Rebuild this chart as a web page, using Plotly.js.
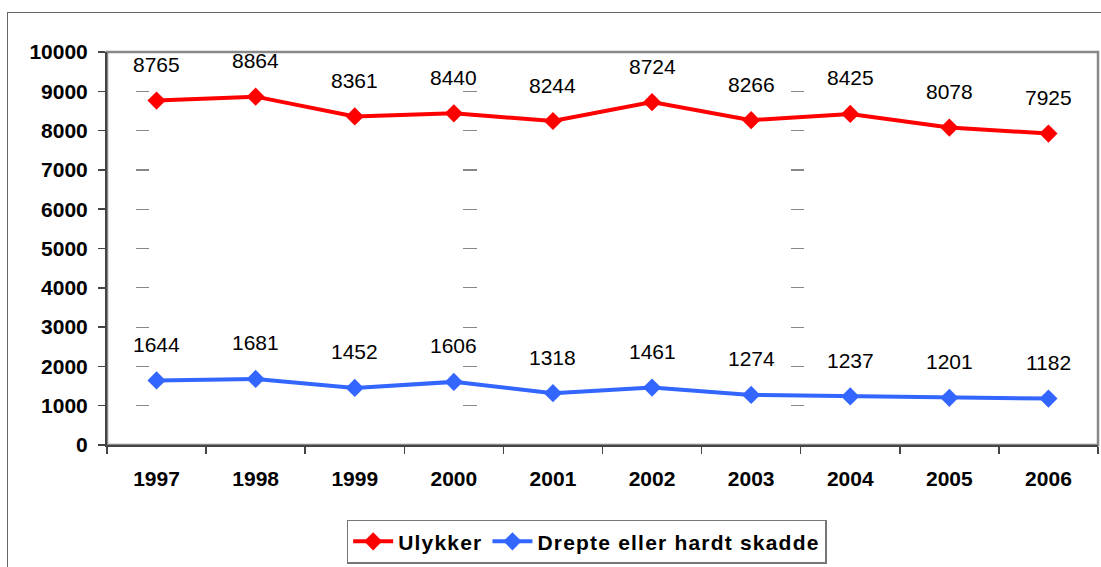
<!DOCTYPE html>
<html>
<head>
<meta charset="utf-8">
<script src="https://cdn.plot.ly/plotly-3.0.1.min.js"></script>
<style>
  html, body { margin: 0; padding: 0; background: #fff; }
  #wrap { position: relative; width: 1101px; height: 567px; overflow: hidden; }
  #chart { width: 1101px; height: 567px; }
  #frame { position: absolute; left: 7px; top: 12px; width: 1200px; height: 700px;
           border: 1.5px solid #666; pointer-events: none; }
  .legendtext { letter-spacing: 1.2px; }
</style>
</head>
<body>
<div id="wrap">
  <div id="chart"></div>
  <div id="frame"></div>
</div>
<script>
const years = ['1997','1998','1999','2000','2001','2002','2003','2004','2005','2006'];
const ulykker = [8765, 8864, 8361, 8440, 8244, 8724, 8266, 8425, 8078, 7925];
const drepte = [1644, 1681, 1452, 1606, 1318, 1461, 1274, 1237, 1201, 1182];
const seriesNames = ['Ulykker', 'Drepte eller hardt skadde'];
const seriesColors = ['#FF0000', '#3366FF'];

const FONT = 'Liberation Sans, Arial, sans-serif';

const traces = [ulykker, drepte].map((vals, i) => ({
  type: 'scatter', mode: 'lines+markers',
  x: years, y: vals, name: seriesNames[i],
  line: {color: seriesColors[i], width: 4},
  marker: {symbol: 'diamond', size: 14, color: seriesColors[i]},
  hoverinfo: 'x+y'
}));

const annotations = [];
[ulykker, drepte].forEach(vals => {
  vals.forEach((v, j) => {
    annotations.push({
      x: j, y: v, xref: 'x', yref: 'y',
      text: String(v), showarrow: false, yshift: 36,
      font: {family: FONT, size: 21, color: '#000'}
    });
  });
});

const layout = {
  width: 1101, height: 567,
  margin: {l: 107, r: 3, t: 52, b: 119},
  paper_bgcolor: '#fff', plot_bgcolor: '#fff',
  showlegend: true,
  legend: {
    orientation: 'h', x: 0.484, xanchor: 'center', y: -0.19, yanchor: 'top',
    bordercolor: '#777', borderwidth: 1.5, bgcolor: '#fff',
    font: {family: FONT, size: 21, color: '#000', weight: 'bold'},
    itemwidth: 40, tracegroupgap: 0
  },
  xaxis: {
    type: 'category', range: [-0.5, 9.5], automargin: false,
    showline: true, linecolor: '#444', linewidth: 2,
    ticks: 'outside', ticklen: 7, tickcolor: '#444', tickwidth: 1.5,
    tickson: 'boundaries', showgrid: false,
    ticklabelstandoff: 14,
    tickfont: {family: FONT, size: 21, color: '#000', weight: 'bold'}
  },
  yaxis: {
    range: [0, 10000], dtick: 1000, tick0: 0, tickformat: 'd', automargin: false,
    showline: true, linecolor: '#444', linewidth: 2,
    ticks: 'outside', ticklen: 7, tickcolor: '#444', tickwidth: 1.5,
    ticklabelstandoff: 6, zeroline: false,
    showgrid: true, gridcolor: '#888', gridwidth: 1.2,
    griddash: '0px,29px,13px,314px,14px,314px,13px,500px',
    tickfont: {family: FONT, size: 21, color: '#000', weight: 'bold'}
  },
  shapes: [{
    type: 'rect', xref: 'paper', yref: 'paper', x0: 0, x1: 1, y0: 0, y1: 1,
    line: {color: '#888', width: 2.5}, layer: 'below'
  }],
  annotations: annotations
};

Plotly.newPlot('chart', traces, layout, {displayModeBar: false, staticPlot: true});
</script>
</body>
</html>
